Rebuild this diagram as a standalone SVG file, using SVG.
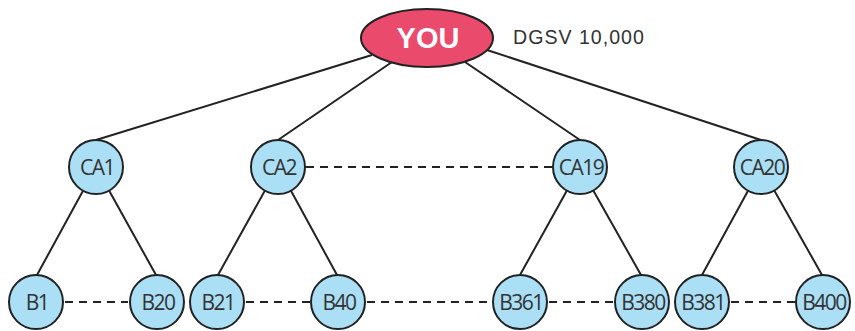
<svg xmlns="http://www.w3.org/2000/svg" width="855" height="331" viewBox="0 0 855 331">
<style>
.edge{stroke:#222;stroke-width:2;fill:none}
.dash{stroke:#222;stroke-width:2;stroke-dasharray:8 6;fill:none}
.node{fill:#aadff6;stroke:#222;stroke-width:2}
.lbl{font-family:"Open Sans","Liberation Sans",sans-serif;font-size:21px;fill:#333;text-anchor:middle;letter-spacing:-1.5px}
</style>
<rect width="855" height="331" fill="#fff"/>
<g id="connectors">
<line class="edge" x1="372" y1="55" x2="96" y2="140"/>
<line class="edge" x1="392" y1="62" x2="278" y2="140"/>
<line class="edge" x1="465" y1="62" x2="580" y2="140"/>
<line class="edge" x1="487" y1="50" x2="761" y2="140"/>
<line class="edge" x1="96" y1="167" x2="37" y2="275"/>
<line class="edge" x1="96" y1="167" x2="156" y2="275"/>
<line class="edge" x1="278" y1="167" x2="218" y2="275"/>
<line class="edge" x1="278" y1="167" x2="337" y2="275"/>
<line class="edge" x1="580" y1="167" x2="520" y2="275"/>
<line class="edge" x1="580" y1="167" x2="641" y2="275"/>
<line class="edge" x1="761" y1="167" x2="702" y2="275"/>
<line class="edge" x1="761" y1="167" x2="822" y2="275"/>
<line class="dash" x1="306" y1="167" x2="552" y2="167"/>
<line class="dash" x1="65" y1="302" x2="128" y2="302"/>
<line class="dash" x1="246" y1="302" x2="310" y2="302"/>
<line class="dash" x1="367" y1="302" x2="492" y2="302"/>
<line class="dash" x1="549" y1="302" x2="613" y2="302"/>
<line class="dash" x1="731" y1="302" x2="795" y2="302"/>
</g>
<g id="you">
<ellipse cx="427" cy="38" rx="66" ry="29" fill="#ea4a6c" stroke="#222" stroke-width="2"/>
<text x="428" y="48" font-family="Liberation Sans,Arial,sans-serif" font-size="29" font-weight="bold" fill="#fff" text-anchor="middle">YOU</text>
</g>
<text id="dgsv" x="513" y="44" font-family="Liberation Sans,Arial,sans-serif" font-size="19.6" fill="#333" letter-spacing="1">DGSV 10,000</text>
<g id="ca1"><circle class="node" cx="96" cy="167" r="27"/><text class="lbl" x="97" y="175">CA1</text></g>
<g id="ca2"><circle class="node" cx="278" cy="167" r="27"/><text class="lbl" x="279" y="175">CA2</text></g>
<g id="ca19"><circle class="node" cx="580" cy="167" r="27"/><text class="lbl" x="581" y="175">CA19</text></g>
<g id="ca20"><circle class="node" cx="761" cy="167" r="27"/><text class="lbl" x="762" y="175">CA20</text></g>
<g id="b1"><circle class="node" cx="36" cy="302" r="27"/><text class="lbl" x="37" y="310">B1</text></g>
<g id="b20"><circle class="node" cx="157" cy="302" r="27"/><text class="lbl" x="158" y="310">B20</text></g>
<g id="b21"><circle class="node" cx="217" cy="302" r="27"/><text class="lbl" x="218" y="310">B21</text></g>
<g id="b40"><circle class="node" cx="338" cy="302" r="27"/><text class="lbl" x="339" y="310">B40</text></g>
<g id="b361"><circle class="node" cx="520" cy="302" r="27"/><text class="lbl" x="521" y="310">B361</text></g>
<g id="b380"><circle class="node" cx="642" cy="302" r="27"/><text class="lbl" x="643" y="310">B380</text></g>
<g id="b381"><circle class="node" cx="702" cy="302" r="27"/><text class="lbl" x="703" y="310">B381</text></g>
<g id="b400"><circle class="node" cx="823" cy="302" r="27"/><text class="lbl" x="824" y="310">B400</text></g>
</svg>
